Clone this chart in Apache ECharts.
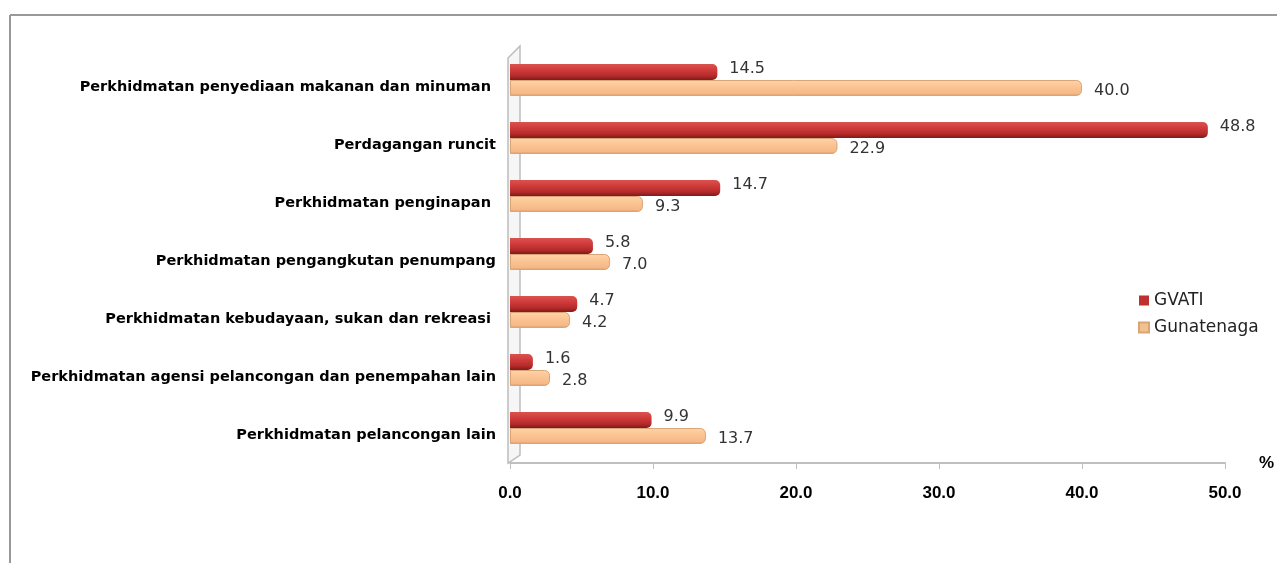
<!DOCTYPE html>
<html>
<head>
<meta charset="utf-8">
<script src="https://cdn.jsdelivr.net/npm/echarts@6/dist/echarts.min.js"></script>
<style>
html,body{margin:0;padding:0;background:#fff;}
#c{width:1277px;height:563px;}
</style>
</head>
<body>
<div id="c"></div>
<script>
const categories = [
  'Perkhidmatan penyediaan makanan dan minuman ',
  'Perdagangan runcit',
  'Perkhidmatan penginapan ',
  'Perkhidmatan pengangkutan penumpang',
  'Perkhidmatan kebudayaan, sukan dan rekreasi ',
  'Perkhidmatan agensi pelancongan dan penempahan lain',
  'Perkhidmatan pelancongan lain'
];
const gvati = [14.5, 48.8, 14.7, 5.8, 4.7, 1.6, 9.9];
const gunatenaga = [40.0, 22.9, 9.3, 7.0, 4.2, 2.8, 13.7];
const xTicks = [0, 10, 20, 30, 40, 50];

const chart = echarts.init(document.getElementById('c'));
const redGrad = new echarts.graphic.LinearGradient(0,0,0,1,[
  {offset:0,color:'#d9534f'},{offset:0.35,color:'#d13c3c'},{offset:0.75,color:'#b52a2a'},{offset:1,color:'#7e1a1a'}]);
const orGrad = new echarts.graphic.LinearGradient(0,0,0,1,[
  {offset:0,color:'#fcd3aa'},{offset:0.4,color:'#fbc594'},{offset:0.85,color:'#f5b886'},{offset:1,color:'#d49a6a'}]);
const baseLabel = {show:true, position:'right', distance:12, color:'#333', fontSize:16, fontFamily:'DejaVu Sans', formatter:p=>p.value.toFixed(1)};
chart.setOption({
  animation:false,
  graphic:[
    {type:'line', shape:{x1:10,y1:15,x2:1277,y2:15}, style:{stroke:'#999',lineWidth:2}},
    {type:'line', shape:{x1:10,y1:15,x2:10,y2:563}, style:{stroke:'#999',lineWidth:2}},
    {type:'polygon', z:-1, shape:{points:[[508,58],[520,46],[520,455],[508,463]]}, style:{fill:'#f6f6f6', stroke:'#bdbdbd', lineWidth:1.5}},
    {type:'text', left:1259, top:455, style:{text:'%', font:'bold 17px "Liberation Sans"', fill:'#000'}}
  ],
  grid:{left:510, right:52, top:51, bottom:106, containLabel:false},
  legend:{
    orient:'vertical', left:1133, top:287, itemWidth:10, itemHeight:10, itemGap:10,
    textStyle:{fontSize:17, color:'#222', fontFamily:'DejaVu Sans'},
    data:[{name:'GVATI', icon:'rect', itemStyle:{color:'#c0302f'}},{name:'Gunatenaga', icon:'rect', itemStyle:{color:'#f2c190'}}]
  },
  xAxis:{
    type:'value', min:0, max:50, interval:10, offset:6,
    axisLine:{show:true, lineStyle:{color:'#bfbfbf', width:2}},
    axisTick:{show:true, length:6, lineStyle:{color:'#bfbfbf'}},
    splitLine:{show:false},
    axisLabel:{margin:22, fontSize:17, fontWeight:'bold', color:'#000', fontFamily:'Liberation Sans', formatter:v=>xTicks.includes(v)?v.toFixed(1):''}
  },
  yAxis:{
    type:'category', data:categories, inverse:true,
    axisLine:{show:false},
    axisTick:{show:false},
    axisLabel:{margin:14, fontSize:14.5, fontWeight:'bold', color:'#000', fontFamily:'DejaVu Sans', verticalAlign:'top'}
  },
  series:[
    {name:'GVATI', type:'bar', data:gvati, barWidth:16, barGap:'0%',
     itemStyle:{color:redGrad, borderRadius:[0,5,5,0]}, label:Object.assign({offset:[0,-3]}, baseLabel)},
    {name:'Gunatenaga', type:'bar', data:gunatenaga, barWidth:16,
     itemStyle:{color:orGrad, borderRadius:[0,5,5,0], borderColor:'#d9a577', borderWidth:1}, label:Object.assign({offset:[0,3]}, baseLabel)}
  ]
});
</script>
</body>
</html>
